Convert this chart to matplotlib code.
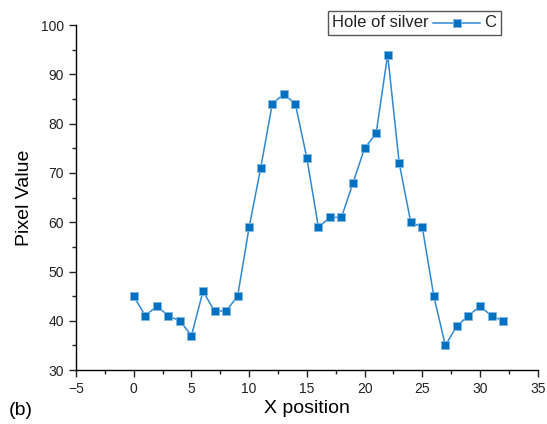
import matplotlib.pyplot as plt
from matplotlib.lines import Line2D
from matplotlib.ticker import MultipleLocator
from matplotlib.offsetbox import AnchoredOffsetbox, TextArea, DrawingArea, HPacker

plt.rcParams['font.family'] = ['Liberation Sans', 'DejaVu Sans']

# data
x_pos = list(range(33))
pixel_value = [45, 41, 43, 41, 40, 37, 46, 42, 42, 45, 59, 71, 84, 86, 84, 73, 59,
               61, 61, 68, 75, 78, 94, 72, 60, 59, 45, 35, 39, 41, 43, 41, 40]

line_style = dict(color='#2f88d2', linewidth=1.1, marker='s', markersize=6,
                  markerfacecolor='#0070c0', markeredgecolor='#7fb6e4',
                  markeredgewidth=0.6)

fig = plt.figure(figsize=(5.47, 4.24), dpi=100)
ax = fig.add_axes([0.139, 0.127, 0.844, 0.814])

ax.plot(x_pos, pixel_value, **line_style)

ax.set_xlim(-5, 35)
ax.set_ylim(30, 100)
ax.xaxis.set_minor_locator(MultipleLocator(2.5))
ax.yaxis.set_major_locator(MultipleLocator(10))
ax.yaxis.set_minor_locator(MultipleLocator(5))
ax.set_xticks([-5, 0, 5, 10, 15, 20, 25, 30, 35])
ax.set_xticklabels(['\u22125', '0', '5', '10', '15', '20', '25', '30', '35'])

for s in ['top', 'right']:
    ax.spines[s].set_visible(False)
for s in ['left', 'bottom']:
    ax.spines[s].set_linewidth(1.0)

ax.tick_params(which='major', direction='out', length=5, width=1, labelsize=10, colors='#222222')
ax.tick_params(which='minor', direction='out', length=3, width=1, colors='#222222')

ax.set_xlabel('X position', fontsize=14, labelpad=3)
ax.set_ylabel('Pixel Value', fontsize=14, labelpad=6)
fig.text(0.016, 0.022, '(b)', fontsize=14)

# legend box: "Hole of silver —■— C"
da = DrawingArea(34, 10, 0, 0)
da.add_artist(Line2D([0, 34], [5, 5], color='#2f88d2', linewidth=1.1))
da.add_artist(Line2D([17], [5], linestyle='none', **{k: v for k, v in line_style.items()
                                                    if k not in ('color', 'linewidth')}))
txt_kw = dict(textprops=dict(fontsize=12, color='#222222'))
box = HPacker(children=[TextArea('Hole of silver', **txt_kw), da, TextArea('C', **txt_kw)],
              align='center', pad=0, sep=3)
anch = AnchoredOffsetbox(loc='upper center', child=box, pad=0.3, borderpad=0,
                         frameon=True, bbox_to_anchor=(0.733, 1.04),
                         bbox_transform=ax.transAxes)
anch.patch.set_edgecolor('#555555')
anch.patch.set_linewidth(1.0)
anch.patch.set_boxstyle('square', pad=0)
ax.add_artist(anch)

fig.savefig('out.png', dpi=100)
